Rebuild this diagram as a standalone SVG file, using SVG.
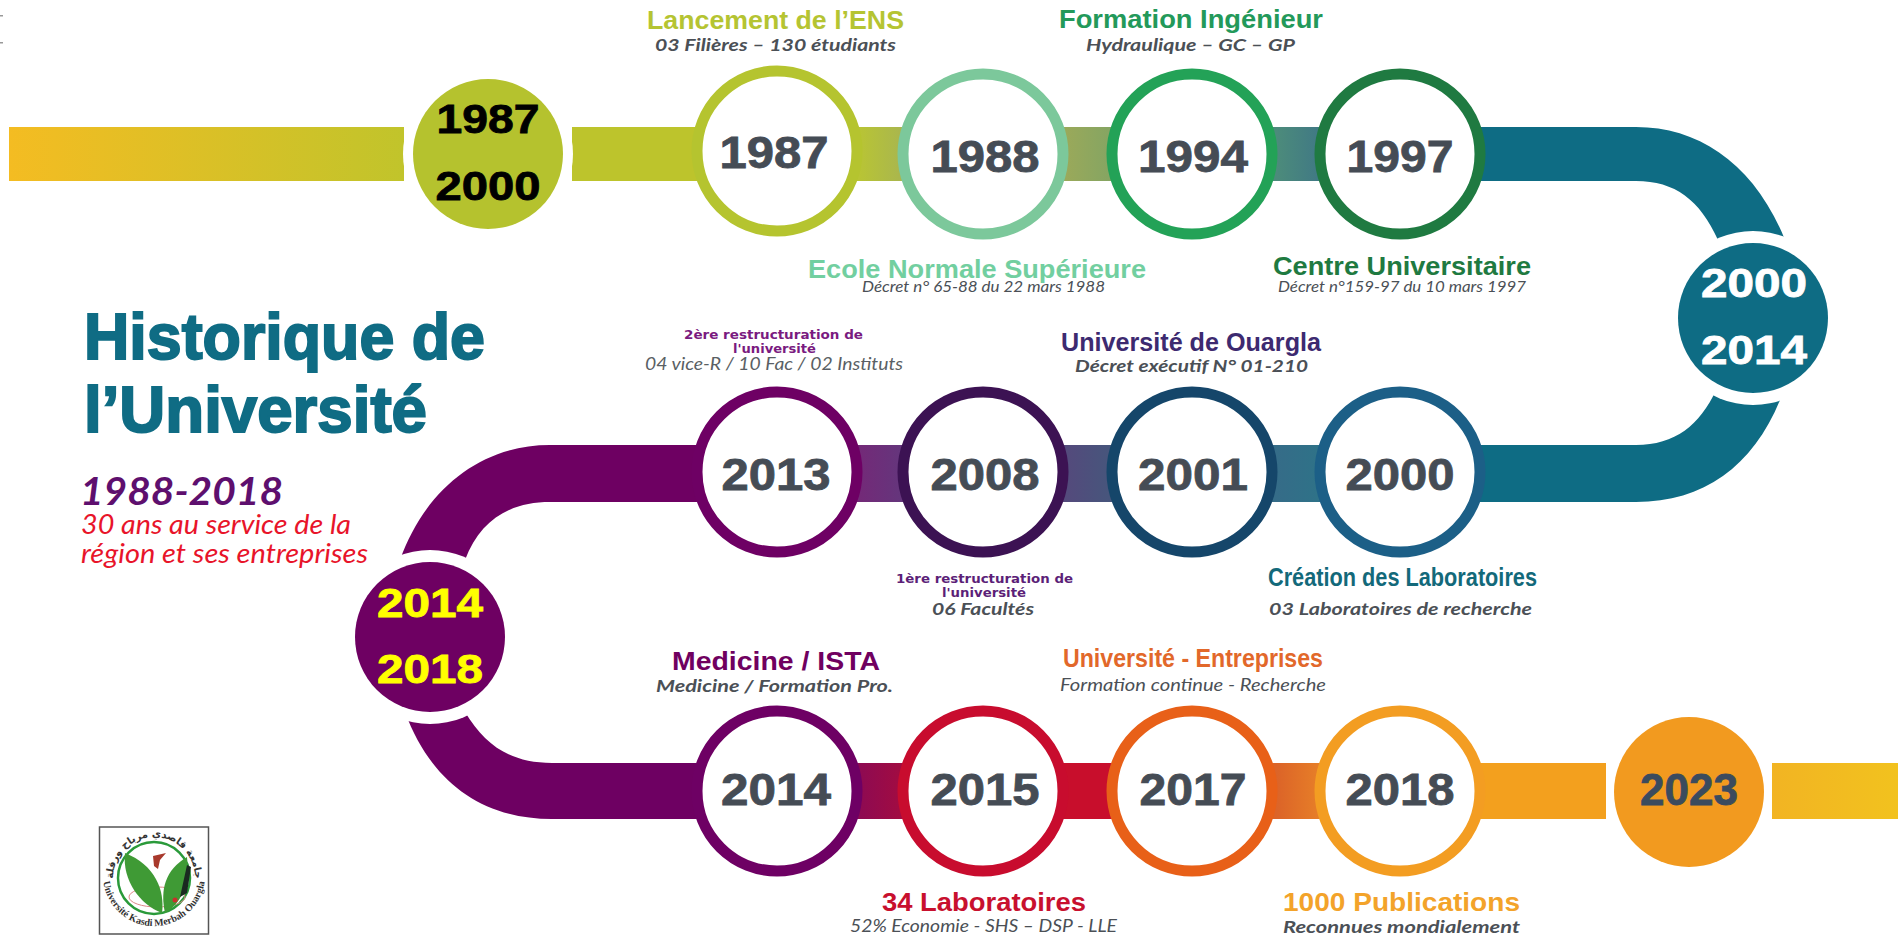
<svg xmlns="http://www.w3.org/2000/svg" width="1898" height="937" viewBox="0 0 1898 937">
<style>
text{font-family:"Liberation Sans",Arial,sans-serif}
.ring{fill:#fff;stroke-width:11}
.halo{fill:#fff}
.yr{font-size:45px;font-weight:700;fill:#454c55;stroke:#454c55;stroke-width:.8px;text-anchor:middle}
.dy{font-size:41px;font-weight:700;stroke-width:.8px;text-anchor:middle}
.h{font-size:25px;font-weight:700}
.t{font-size:64px;font-weight:700;fill:#0f6c84;stroke:#0f6c84;stroke-width:2px}
.s{font-family:Lato,"Liberation Sans",sans-serif;font-size:17.5px;font-weight:700;font-style:italic;fill:#4b5056}
.d{font-family:Lato,"Liberation Sans",sans-serif;font-size:15px;font-style:italic;fill:#4b5056}
.r{font-family:"DejaVu Sans",sans-serif;font-size:13px;font-weight:700}
.l{font-family:Lato,"Liberation Sans",sans-serif;font-size:27px;font-style:italic;fill:#e8142a}
</style>
<defs>
<linearGradient id="g0" gradientUnits="userSpaceOnUse" x1="9" y1="0" x2="404" y2="0"><stop offset="0" stop-color="#f4bc22"/><stop offset="1" stop-color="#c1c42b"/></linearGradient>
<linearGradient id="g1" gradientUnits="userSpaceOnUse" x1="860" y1="0" x2="905" y2="0"><stop offset="0" stop-color="#b8c435"/><stop offset="1" stop-color="#a8b550"/></linearGradient>
<linearGradient id="g2" gradientUnits="userSpaceOnUse" x1="1066" y1="0" x2="1108" y2="0"><stop offset="0" stop-color="#9aa95a"/><stop offset="1" stop-color="#86a562"/></linearGradient>
<linearGradient id="g3" gradientUnits="userSpaceOnUse" x1="1277" y1="0" x2="1317" y2="0"><stop offset="0" stop-color="#4c8b7b"/><stop offset="1" stop-color="#417a84"/></linearGradient>
<linearGradient id="g4" gradientUnits="userSpaceOnUse" x1="1277" y1="0" x2="1317" y2="0"><stop offset="0" stop-color="#356c88"/><stop offset="1" stop-color="#2f7288"/></linearGradient>
<linearGradient id="g5" gradientUnits="userSpaceOnUse" x1="1066" y1="0" x2="1108" y2="0"><stop offset="0" stop-color="#544a7c"/><stop offset="1" stop-color="#47557c"/></linearGradient>
<linearGradient id="g6" gradientUnits="userSpaceOnUse" x1="860" y1="0" x2="900" y2="0"><stop offset="0" stop-color="#732a78"/><stop offset="1" stop-color="#65357c"/></linearGradient>
<linearGradient id="g7" gradientUnits="userSpaceOnUse" x1="860" y1="0" x2="900" y2="0"><stop offset="0" stop-color="#8e0a52"/><stop offset="1" stop-color="#a10c42"/></linearGradient>
<linearGradient id="g8" gradientUnits="userSpaceOnUse" x1="1277" y1="0" x2="1317" y2="0"><stop offset="0" stop-color="#dc6428"/><stop offset="1" stop-color="#e67d28"/></linearGradient>
<linearGradient id="g9" gradientUnits="userSpaceOnUse" x1="1772" y1="0" x2="1898" y2="0"><stop offset="0" stop-color="#f2b423"/><stop offset="1" stop-color="#f2c21e"/></linearGradient>
<path id="arcTop" d="M115.5,892 A41,41 0 1 1 192.5,892"/>
<path id="arcBot" d="M104.7,862 A51,51 0 1 0 203.3,862"/>
</defs>

<rect x="0" y="15" width="3" height="1.5" fill="#999"/>
<rect x="0" y="42" width="3" height="1.5" fill="#999"/>

<g id="connectors">
<rect x="9" y="127" width="395" height="54" fill="url(#g0)"/>
<rect x="572" y="127" width="130" height="54" fill="#bdc42c"/>
<rect x="850" y="127" width="60" height="54" fill="url(#g1)"/>
<rect x="1060" y="127" width="55" height="54" fill="url(#g2)"/>
<rect x="1270" y="127" width="55" height="54" fill="url(#g3)"/>
<path fill="#0e6c84" d="M1475,127 H1636 C1700,127 1755,165 1785,240 L1718,240 C1700,200 1675,181 1636,181 H1475 Z"/>
<path fill="#0e6c84" d="M1475,445 H1636 C1675,445 1700,425 1716,390 L1782,395 C1755,465 1705,502 1636,502 H1475 Z"/>
<rect x="1270" y="445" width="55" height="57" fill="url(#g4)"/>
<rect x="1060" y="445" width="55" height="57" fill="url(#g5)"/>
<rect x="850" y="445" width="60" height="57" fill="url(#g6)"/>
<path fill="#6e0062" d="M700,445 H550 C480,445 425,490 400,560 L465,560 C480,520 510,502 550,502 H700 Z"/>
<path fill="#6e0062" d="M700,763 H552 C510,763 485,745 465,712 L405,712 C430,780 480,819 552,819 H700 Z"/>
<rect x="850" y="763" width="60" height="56" fill="url(#g7)"/>
<rect x="1060" y="763" width="55" height="56" fill="#c80e2c"/>
<rect x="1270" y="763" width="55" height="56" fill="url(#g8)"/>
<rect x="1475" y="763" width="131" height="56" fill="#f3a01e"/>
<rect x="1772" y="763" width="126" height="56" fill="url(#g9)"/>
</g>

<g id="title">
<text class="t" x="84" y="359" textLength="401" lengthAdjust="spacingAndGlyphs">Historique de</text>
<text class="t" x="84" y="432" textLength="343" lengthAdjust="spacingAndGlyphs">l’Université</text>
<text x="80" y="505" style="font-family:Lato,sans-serif" font-size="39" font-weight="700" font-style="italic" fill="#5e0f6e" textLength="203" lengthAdjust="spacingAndGlyphs">1988-2018</text>
<text class="l" x="81" y="534" textLength="270" lengthAdjust="spacingAndGlyphs">30 ans au service de la</text>
<text class="l" x="81" y="563" textLength="287" lengthAdjust="spacingAndGlyphs">région et ses entreprises</text>
</g>

<g id="period-1987-2000">
<circle class="halo" cx="488" cy="154" r="85"/>
<circle cx="488" cy="154" r="75" fill="#b5c22e"/>
<text class="dy" x="488" y="133" fill="#000" stroke="#000" textLength="103" lengthAdjust="spacingAndGlyphs">1987</text>
<text class="dy" x="488" y="200" fill="#000" stroke="#000" textLength="105" lengthAdjust="spacingAndGlyphs">2000</text>
</g>
<g id="period-2000-2014">
<circle class="halo" cx="1753" cy="318" r="87"/>
<circle cx="1753" cy="318" r="75" fill="#0e6c84"/>
<text class="dy" x="1754" y="297" fill="#fff" stroke="#fff" textLength="106" lengthAdjust="spacingAndGlyphs">2000</text>
<text class="dy" x="1754" y="364" fill="#fff" stroke="#fff" textLength="106" lengthAdjust="spacingAndGlyphs">2014</text>
</g>
<g id="period-2014-2018">
<circle class="halo" cx="430" cy="637" r="87"/>
<circle cx="430" cy="637" r="75" fill="#6e0062"/>
<text class="dy" x="430" y="617" fill="#ffff00" stroke="#ffff00" textLength="106" lengthAdjust="spacingAndGlyphs">2014</text>
<text class="dy" x="430" y="683" fill="#ffff00" stroke="#ffff00" textLength="106" lengthAdjust="spacingAndGlyphs">2018</text>
</g>
<g id="period-2023">
<circle class="halo" cx="1689" cy="792" r="83"/>
<circle cx="1689" cy="792" r="75" fill="#f29a1f"/>
<text class="yr" x="1689" y="805" style="fill:#3b4b5e;stroke:#3b4b5e" textLength="98" lengthAdjust="spacingAndGlyphs">2023</text>
</g>

<g id="y1987"><circle class="ring" cx="777" cy="151" r="80" stroke="#b5c42f"/><text class="yr" x="774" y="168" textLength="109" lengthAdjust="spacingAndGlyphs">1987</text>
<text class="h" x="647" y="29" fill="#b5c432" textLength="257" lengthAdjust="spacingAndGlyphs">Lancement de l’ENS</text><text class="s" x="655" y="51" textLength="241" lengthAdjust="spacingAndGlyphs">03 Filières – 130 étudiants</text></g>
<g id="y1988"><circle class="ring" cx="983" cy="154" r="80" stroke="#7cc89b"/><text class="yr" x="985" y="172" textLength="109" lengthAdjust="spacingAndGlyphs">1988</text>
<text class="h" x="808" y="278" fill="#72cfa0" textLength="338" lengthAdjust="spacingAndGlyphs">Ecole Normale Supérieure</text><text class="d" x="862" y="292" textLength="243" lengthAdjust="spacingAndGlyphs">Décret n° 65-88 du 22 mars 1988</text></g>
<g id="y1994"><circle class="ring" cx="1192" cy="154" r="80" stroke="#23a257"/><text class="yr" x="1193" y="172" textLength="110" lengthAdjust="spacingAndGlyphs">1994</text>
<text class="h" x="1059" y="28" fill="#23995a" textLength="264" lengthAdjust="spacingAndGlyphs">Formation Ingénieur</text><text class="s" x="1086" y="51" textLength="209" lengthAdjust="spacingAndGlyphs">Hydraulique – GC – GP</text></g>
<g id="y1997"><circle class="ring" cx="1400" cy="154" r="80" stroke="#1f7a41"/><text class="yr" x="1400" y="172" textLength="107" lengthAdjust="spacingAndGlyphs">1997</text>
<text class="h" x="1273" y="275" fill="#1f7a41" textLength="258" lengthAdjust="spacingAndGlyphs">Centre Universitaire</text><text class="d" x="1278" y="292" textLength="248" lengthAdjust="spacingAndGlyphs">Décret n°159-97 du 10 mars 1997</text></g>

<g id="y2013"><circle class="ring" cx="777" cy="472" r="80" stroke="#6e0064"/><text class="yr" x="776" y="490" textLength="109" lengthAdjust="spacingAndGlyphs">2013</text>
<text class="r" x="684" y="339" fill="#7a1a80" textLength="179" lengthAdjust="spacingAndGlyphs">2ère restructuration de</text><text class="r" x="733" y="353" fill="#7a1a80" textLength="83" lengthAdjust="spacingAndGlyphs">l'université</text><text class="s" x="645" y="370" style="font-weight:400;fill:#5a5f64" textLength="258" lengthAdjust="spacingAndGlyphs">04 vice-R / 10 Fac / 02 Instituts</text></g>
<g id="y2008"><circle class="ring" cx="983" cy="472" r="80" stroke="#3c1253"/><text class="yr" x="985" y="490" textLength="109" lengthAdjust="spacingAndGlyphs">2008</text>
<text class="r" x="896" y="583" fill="#5c1f78" textLength="177" lengthAdjust="spacingAndGlyphs">1ère restructuration de</text><text class="r" x="942" y="597" fill="#5c1f78" textLength="84" lengthAdjust="spacingAndGlyphs">l'université</text><text class="s" x="932" y="615" textLength="102" lengthAdjust="spacingAndGlyphs">06 Facultés</text></g>
<g id="y2001"><circle class="ring" cx="1192" cy="472" r="80" stroke="#15466a"/><text class="yr" x="1193" y="490" textLength="110" lengthAdjust="spacingAndGlyphs">2001</text>
<text class="h" x="1061" y="351" fill="#3d2a70" textLength="260" lengthAdjust="spacingAndGlyphs">Université de Ouargla</text><text class="s" x="1075" y="372" textLength="233" lengthAdjust="spacingAndGlyphs">Décret exécutif N° 01-210</text></g>
<g id="y2000"><circle class="ring" cx="1400" cy="472" r="80" stroke="#1c5f87"/><text class="yr" x="1400" y="490" textLength="109" lengthAdjust="spacingAndGlyphs">2000</text>
<text class="h" x="1268" y="586" fill="#13697a" textLength="269" lengthAdjust="spacingAndGlyphs">Création des Laboratoires</text><text class="s" x="1269" y="615" textLength="263" lengthAdjust="spacingAndGlyphs">03 Laboratoires de recherche</text></g>

<g id="y2014"><circle class="ring" cx="777" cy="791" r="80" stroke="#6e0064"/><text class="yr" x="776" y="805" textLength="110" lengthAdjust="spacingAndGlyphs">2014</text>
<text class="h" x="672" y="670" fill="#700060" textLength="208" lengthAdjust="spacingAndGlyphs">Medicine / ISTA</text><text class="s" x="656" y="692" textLength="237" lengthAdjust="spacingAndGlyphs">Medicine / Formation Pro.</text></g>
<g id="y2015"><circle class="ring" cx="983" cy="791" r="80" stroke="#c80c2e"/><text class="yr" x="985" y="805" textLength="109" lengthAdjust="spacingAndGlyphs">2015</text>
<text class="h" x="882" y="911" fill="#c8102e" textLength="204" lengthAdjust="spacingAndGlyphs">34 Laboratoires</text><text class="s" x="850" y="932" style="font-weight:400" textLength="267" lengthAdjust="spacingAndGlyphs">52% Economie - SHS – DSP - LLE</text></g>
<g id="y2017"><circle class="ring" cx="1192" cy="791" r="80" stroke="#e86018"/><text class="yr" x="1193" y="805" textLength="107" lengthAdjust="spacingAndGlyphs">2017</text>
<text class="h" x="1063" y="667" fill="#e2682a" textLength="260" lengthAdjust="spacingAndGlyphs">Université - Entreprises</text><text class="s" x="1060" y="691" style="font-weight:400" textLength="266" lengthAdjust="spacingAndGlyphs">Formation continue - Recherche</text></g>
<g id="y2018"><circle class="ring" cx="1400" cy="791" r="80" stroke="#f39d22"/><text class="yr" x="1400" y="805" textLength="109" lengthAdjust="spacingAndGlyphs">2018</text>
<text class="h" x="1283" y="911" fill="#f3a32a" textLength="237" lengthAdjust="spacingAndGlyphs">1000 Publications</text><text class="s" x="1283" y="933" textLength="237" lengthAdjust="spacingAndGlyphs">Reconnues mondialement</text></g>

<g id="logo">
<rect x="99.5" y="827" width="109" height="107" fill="#fff" stroke="#555" stroke-width="1.5"/>
<circle cx="154" cy="878" r="36" fill="#fff" stroke="#2a9a3a" stroke-width="2.5"/>
<ellipse cx="157" cy="897" rx="28" ry="10" fill="none" stroke="#d88" stroke-width="1"/>
<path fill="#3f9a35" d="M125,853 C122,880 140,905 162,913 C165,890 155,865 125,853Z"/>
<path fill="#3f9a35" d="M187,857 C165,870 160,890 165,913 C180,905 190,885 187,857Z"/>
<path fill="#1a2a20" d="M187,865 L191,867 L187,893 L180,897Z"/>
<path fill="#a8392c" d="M153,856 L166,853 L160,860 L158,869 L154,866Z"/>
<circle cx="175" cy="900" r="2.5" fill="#c8302c"/>
<text style="font-family:'DejaVu Sans',sans-serif" font-size="10" font-weight="700" fill="#333" text-anchor="middle"><textPath href="#arcTop" startOffset="50%">جامعة قاصدي مرباح ورقلة</textPath></text>
<text style="font-family:'Liberation Serif',serif" font-size="10" font-weight="700" fill="#333" text-anchor="middle"><textPath href="#arcBot" startOffset="50%">Université Kasdi Merbah Ouargla</textPath></text>
</g>
</svg>
